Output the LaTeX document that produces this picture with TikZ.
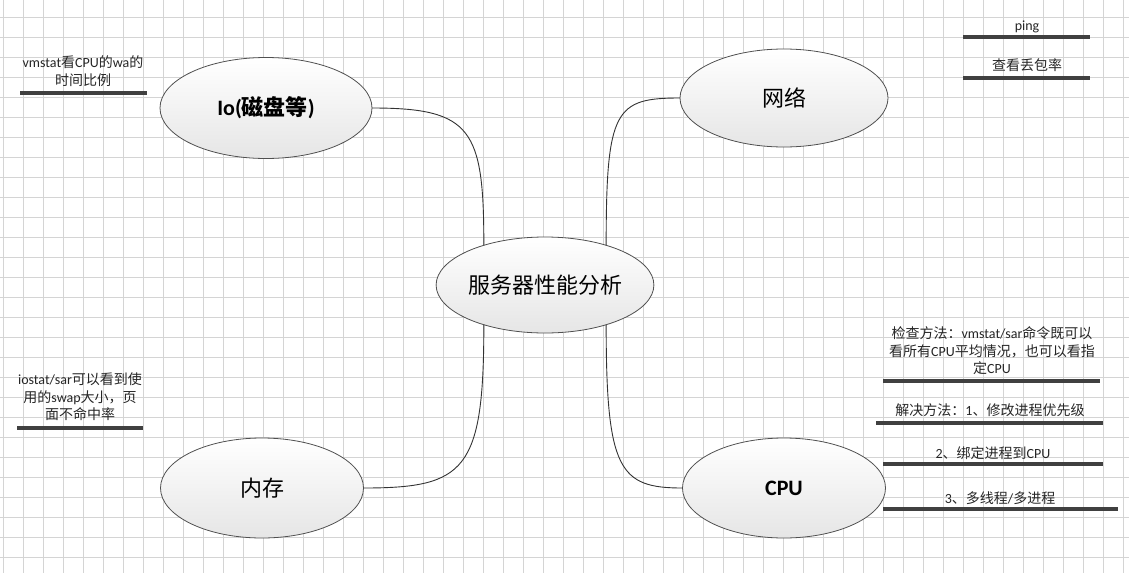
\documentclass[tikz,border=0pt]{standalone}
\usepackage{fontspec}
\setmainfont{Carlito}
\newfontfamily\cjk{Noto Sans CJK SC}
\newcommand\zh[1]{{\cjk #1}}
\usetikzlibrary{shapes.geometric}
\definecolor{gridc}{HTML}{D4D4D4}
\definecolor{barc}{HTML}{404040}
\definecolor{edgec}{HTML}{505050}
\tikzset{
  topic/.style={ellipse, draw=edgec, line width=0.8pt, inner sep=0pt, outer sep=0pt,
    top color=white, bottom color=black!10, font=\fontsize{22}{26}\selectfont},
  note/.style={align=center, inner sep=0pt, font=\fontsize{14}{17.5}\selectfont, text=black!85},
  bar/.style={line width=4pt, draw=barc},
  link/.style={draw=black!80, line width=0.9pt},
  gridline/.style={draw=gridc, line width=0.6pt}
}
\begin{document}
\begin{tikzpicture}[x=1pt,y=-1pt]
\useasboundingbox[fill=white] (0,0) rectangle (1129,573);
% grid
\foreach \i in {0,...,56} \draw[gridline] (3+20*\i,0) -- (3+20*\i,573);
\foreach \j in {0,...,27} \draw[gridline] (0,17.5+20*\j) -- (1129,17.5+20*\j);

% topics
\node[topic, minimum width=206pt, minimum height=96pt] (c) at (545,285) {\zh{服务器性能分析}};
\node[topic, minimum width=212pt, minimum height=101pt] (io) at (266,108) {\textbf{Io(\zh{磁盘等})}};
\node[topic, minimum width=208pt, minimum height=98pt] (net) at (784,98) {\zh{网络}};
\node[topic, minimum width=203pt, minimum height=100pt] (mem) at (262,488) {\zh{内存}};
\node[topic, minimum width=203pt, minimum height=100pt] (cpu) at (784,488) {\textbf{CPU}};

% connectors
\draw[link] (io.east) .. controls +(100,0) and +(0,-116) .. (c.147);
\draw[link] (c.33) .. controls +(0,-136) and +(-65,0) .. (net.west);
\draw[link] (c.-33) .. controls +(0,146) and +(-63,0) .. (cpu.west);
\draw[link] (c.-147) .. controls +(0,146) and +(102,0) .. (mem.east);

% notes
\node[note] (n1) at (83,71) {vmstat\zh{看}CPU\zh{的}wa\zh{的}\\\zh{时间比例}};
\draw[bar] (20,93) -- (147,93);
\node[note] (n2) at (80,397) {iostat/sar\zh{可以看到使}\\\zh{用的}swap\zh{大小，页}\\\zh{面不命中率}};
\draw[bar] (17,428) -- (143,428);
\node[note] (n3) at (1027,27) {ping};
\draw[bar] (963,37) -- (1090,37);
\node[note] (n4) at (1027,65) {\zh{查看丢包率}};
\draw[bar] (963,78) -- (1090,78);
\node[note] (n5) at (992,351) {\zh{检查方法：}vmstat/sar\zh{命令既可以}\\\zh{看所有}CPU\zh{平均情况，也可以看指}\\\zh{定}CPU};
\draw[bar] (883,381) -- (1100,381);
\node[note] (n6) at (990,410) {\zh{解决方法：}1\zh{、修改进程优先级}};
\draw[bar] (876,423) -- (1103,423);
\node[note] (n7) at (993,453) {2\zh{、绑定进程到}CPU};
\draw[bar] (883,464) -- (1103,464);
\node[note] (n8) at (1000,498) {3\zh{、多线程}/\zh{多进程}};
\draw[bar] (883,509) -- (1118,509);
\end{tikzpicture}
\end{document}
